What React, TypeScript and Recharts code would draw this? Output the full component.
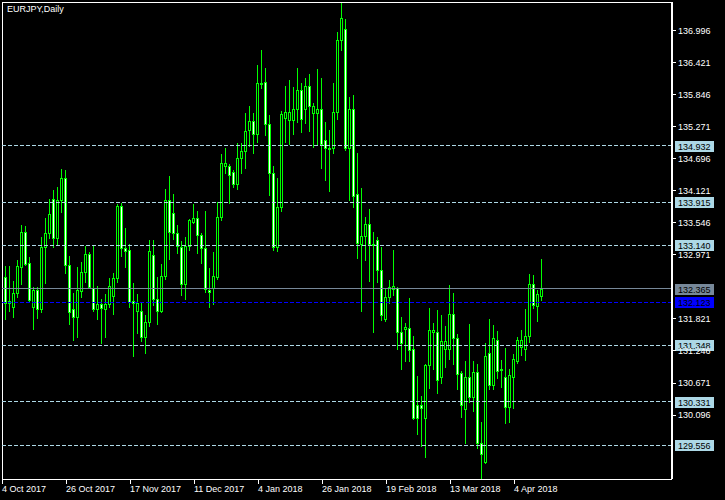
import { ComposedChart, Bar, XAxis, YAxis, ReferenceLine } from "recharts";

// EURJPY daily candles, 4 Oct 2017 .. 17 Apr 2018
const opens = [
  132.592, 132.579, 132.102, 132.03, 132.292, 132.759, 133.376, 132.82, 132.041, 132.335,
  132.005, 133.107, 133.358, 133.969, 133.269, 133.951, 134.346, 132.784, 131.994, 131.85,
  132.317, 132.658, 132.981, 132.371, 131.994, 132.084, 132.005, 132.084, 132.238, 132.55,
  133.848, 133.089, 133.058, 132.138, 131.969, 131.969, 131.491, 131.761, 132.963, 132.174,
  131.958, 132.586, 133.951, 133.717, 133.358, 133.118, 132.443, 133.13, 133.566, 133.628,
  133.322, 133.089, 132.34, 132.382, 132.579, 133.645, 134.572, 134.572, 134.464, 134.249,
  134.705, 134.83, 135.212, 135.369, 135.146, 136.033, 136.069, 135.315, 134.435, 133.107,
  133.825, 135.433, 135.387, 135.387, 135.584, 135.925, 135.584, 135.997, 135.512, 135.512,
  135.584, 135.028, 134.895, 134.884, 135.53, 136.823, 137.02, 134.895, 135.584, 134.069,
  133.172, 133.304, 133.52, 133.172, 133.233, 132.694, 131.815, 132.22, 132.353, 132.371,
  131.592, 131.64, 131.653, 131.276, 130.271, 130.271, 130.037, 130.989, 131.592, 131.592,
  130.773, 131.276, 131.276, 131.904, 131.473, 130.845, 130.199, 130.784, 130.425, 130.863,
  129.589, 129.258, 131.204, 130.63, 131.448, 130.922, 130.784, 130.246, 130.784, 131.061,
  131.323, 131.287, 131.509, 132.443, 132.048, 132.238,
];
const highs = [
  132.664, 132.771, 132.771, 132.502, 132.879, 133.507, 133.489, 132.933, 132.4, 132.394,
  133.286, 133.628, 133.969, 134.13, 134.189, 134.512, 134.494, 132.951, 132.281, 132.759,
  132.843, 133.136, 133.017, 133.136, 132.412, 132.184, 132.269, 132.556, 132.64, 133.879,
  133.897, 133.453, 133.166, 132.466, 132.269, 132.113, 131.892, 133.238, 133.233, 132.579,
  132.802, 134.153, 134.387, 134.069, 133.507, 133.22, 133.286, 133.61, 133.884, 133.759,
  133.358, 133.759, 132.741, 133.023, 133.925, 134.782, 134.895, 134.602, 134.494, 134.974,
  134.979, 135.512, 135.643, 135.512, 136.379, 136.648, 136.325, 135.482, 134.566, 134.351,
  135.554, 136.008, 136.11, 135.984, 136.325, 136.056, 136.146, 136.218, 135.692, 136.307,
  136.146, 135.356, 135.207, 136.056, 136.966, 137.498, 137.205, 135.799, 135.841, 134.794,
  134.177, 133.645, 133.789, 133.376, 133.286, 133.112, 132.353, 132.515, 133.058, 132.4,
  131.856, 131.743, 132.197, 131.515, 130.797, 130.438, 131.012, 132.017, 131.748, 131.981,
  131.892, 131.694, 132.43, 132.281, 131.551, 130.887, 131.066, 131.73, 131.066, 131.012,
  129.971, 131.389, 131.82, 131.712, 131.605, 131.084, 131.294, 130.922, 131.192, 131.497,
  131.622, 131.999, 132.628, 132.61, 132.346, 132.897,
];
const lows = [
  132.43, 131.825, 131.969, 131.861, 132.22, 132.448, 132.784, 132.13, 131.646, 131.843,
  131.946, 132.472, 133.269, 133.107, 133.166, 133.746, 132.651, 131.736, 131.448, 131.502,
  132.22, 132.489, 132.371, 131.964, 131.825, 131.394, 131.502, 132.041, 131.915, 132.489,
  132.951, 132.748, 132.041, 131.161, 131.574, 131.43, 131.215, 131.7, 132.077, 131.725,
  131.94, 132.543, 132.902, 133.261, 133.01, 132.245, 132.184, 133.058, 133.538, 132.999,
  132.831, 132.299, 132.041, 132.089, 132.538, 133.597, 134.446, 133.897, 134.195, 134.159,
  134.446, 134.536, 134.925, 134.805, 135.002, 135.972, 135.123, 134.046, 133.058, 133.046,
  133.759, 135.002, 134.967, 135.146, 135.361, 135.182, 135.344, 135.2, 134.913, 134.949,
  134.536, 134.32, 134.118, 134.805, 135.415, 136.648, 134.853, 133.956, 133.825, 132.92,
  131.969, 132.884, 132.507, 131.592, 132.479, 131.807, 131.789, 132.113, 132.245, 131.287,
  130.928, 131.066, 131.071, 130.025, 129.761, 129.546, 129.348, 130.587, 130.917, 130.497,
  130.666, 130.964, 131.107, 131.018, 130.558, 130.066, 129.6, 130.325, 130.174, 129.499,
  128.96, 129.241, 130.569, 130.569, 130.766, 130.605, 129.959, 129.976, 130.228, 131.025,
  131.179, 131.084, 131.407, 132.023, 131.789, 132.166,
];
const closes = [
  132.52, 132.102, 132.148, 132.292, 132.771, 133.376, 132.813, 132.161, 132.335, 132.005,
  133.107, 133.358, 133.699, 133.269, 133.956, 134.346, 132.784, 131.94, 131.85, 132.335,
  132.658, 132.981, 132.389, 131.994, 132.095, 132.012, 132.095, 132.407, 132.55, 133.848,
  133.089, 133.046, 132.13, 132.113, 132.113, 131.491, 131.761, 133.035, 132.174, 131.958,
  132.586, 133.951, 133.387, 133.358, 133.13, 132.443, 133.13, 133.597, 133.628, 133.322,
  133.089, 132.353, 132.299, 132.592, 133.645, 134.615, 134.615, 134.399, 134.249, 134.705,
  134.83, 135.195, 135.369, 135.146, 136.051, 136.062, 135.315, 134.435, 133.107, 133.825,
  135.494, 135.53, 135.53, 135.584, 135.925, 135.415, 135.997, 135.638, 135.638, 135.584,
  134.956, 134.884, 134.877, 135.53, 136.823, 137.218, 134.884, 135.584, 134.033, 133.179,
  133.304, 133.52, 133.161, 133.143, 132.694, 131.886, 132.22, 132.389, 132.407, 131.592,
  131.394, 131.676, 131.269, 130.048, 130.048, 130.228, 130.989, 131.617, 131.617, 130.72,
  131.42, 131.43, 131.904, 131.473, 130.827, 130.276, 130.784, 130.414, 130.863, 129.589,
  129.397, 131.15, 130.63, 131.473, 130.881, 130.904, 130.246, 130.809, 131.097, 131.438,
  131.438, 131.509, 132.443, 132.066, 132.263, 132.365,
];

const dateTicks = [0, 16, 32, 48, 64, 80, 96, 112, 128];
const dateLabels = [
  "4 Oct 2017", "26 Oct 2017", "17 Nov 2017", "11 Dec 2017", "4 Jan 2018",
  "26 Jan 2018", "19 Feb 2018", "13 Mar 2018", "4 Apr 2018",
];
const priceTicks = [
  136.996, 136.421, 135.846, 135.271, 134.696, 134.121, 133.546, 132.971,
  131.821, 131.246, 130.671, 130.096,
];
const levelLines = [134.932, 133.915, 133.14, 131.348, 130.331, 129.556];
const bidPrice = 132.365;
const bluePrice = 132.123;

const data = opens.map((o, i) => ({
  i,
  open: o,
  high: highs[i],
  low: lows[i],
  close: closes[i],
}));

const LIME = "#00ff00";
const FONT = "'Liberation Sans', Arial, sans-serif";

// wick + 3px body: lime outline, white centre for down days, black for up days
function Candle(props: any) {
  const { x, y, width, height, payload } = props;
  if (x == null || y == null || height == null) return null;
  const top = Math.min(y, y + height);
  const h = Math.abs(height);
  const { open, high, low, close } = payload;
  const k = high > low ? h / (high - low) : 0;
  const toY = (p: number) => top + (high - p) * k;
  const px = Math.round(x + width / 2 - 0.5);
  const bull = close >= open;
  const bTop = Math.round(toY(Math.max(open, close)));
  const bBot = Math.round(toY(Math.min(open, close)));
  const wTop = Math.round(top);
  const wBot = Math.round(top + h);
  return (
    <g shapeRendering="crispEdges">
      <rect x={px} y={wTop} width={1} height={wBot - wTop + 1} fill={LIME} />
      <rect x={px - 1} y={bTop} width={3} height={bBot - bTop + 1} fill={LIME} />
      {bBot - bTop >= 2 && (
        <rect x={px} y={bTop + 1} width={1} height={bBot - bTop - 1} fill={bull ? "#000" : "#fff"} />
      )}
    </g>
  );
}

function DateTick(props: any) {
  const { x, y, payload } = props;
  const idx = dateTicks.indexOf(payload.value);
  const px = Math.round(x - 0.5) + 0.5;
  return (
    <g>
      <line x1={px} x2={px} y1={y} y2={y + 5} stroke="#fff" shapeRendering="crispEdges" />
      <text x={px - 0.5} y={y + 12.7} fill="#fff" fontSize={9} fontFamily={FONT}>
        {idx >= 0 ? dateLabels[idx] : ""}
      </text>
    </g>
  );
}

function PriceTick(props: any) {
  const { x, y, payload } = props;
  const py = Math.round(y - 0.5) + 0.5;
  return (
    <g>
      <line x1={x} x2={x + 4} y1={py} y2={py} stroke="#fff" shapeRendering="crispEdges" />
      <text x={x + 6} y={y + 3.2} fill="#fff" fontSize={9} fontFamily={FONT}>
        {payload.value.toFixed(3)}
      </text>
    </g>
  );
}

function priceBox(bg: string, fg: string, value: number) {
  return (props: any) => {
    const vb = props.viewBox || {};
    const bx = (vb.x || 0) + (vb.width || 0) + 3;
    const by = Math.round(vb.y || 0);
    return (
      <g>
        <rect x={bx} y={by - 5} width={39} height={11} fill={bg} shapeRendering="crispEdges" />
        <text x={bx + 3} y={by + 3.5} fill={fg} fontSize={9} fontFamily={FONT}>
          {value.toFixed(3)}
        </text>
      </g>
    );
  };
}

export default function App() {
  return (
    <div style={{ position: "absolute", left: 0, top: 0, width: 725, height: 500, background: "#000" }}>
      <ComposedChart
        width={725}
        height={500}
        data={data}
        margin={{ top: 2, right: 0, bottom: 0, left: 2 }}
      >
        <XAxis
          dataKey="i"
          type="number"
          domain={[-0.075, 167.425]}
          allowDataOverflow
          ticks={dateTicks}
          interval={0}
          height={21}
          tickSize={0}
          tickMargin={0}
          tickLine={false}
          axisLine={{ stroke: "#fff", shapeRendering: "crispEdges" }}
          tick={<DateTick />}
        />
        <YAxis
          orientation="right"
          type="number"
          domain={[128.948, 137.51]}
          allowDataOverflow
          ticks={priceTicks}
          interval={0}
          width={53}
          tickSize={0}
          tickMargin={0}
          tickLine={false}
          axisLine={{ stroke: "#fff", strokeWidth: 2 }}
          tick={<PriceTick />}
        />
        <ReferenceLine y={137.51} stroke="#fff" shapeRendering="crispEdges" />
        <ReferenceLine x={-0.075} stroke="#fff" shapeRendering="crispEdges" />
        {levelLines.map((v) => (
          <ReferenceLine
            key={v}
            y={v}
            stroke="#add8e6"
            strokeDasharray="4 2"
            shapeRendering="crispEdges"
            label={priceBox("#add8e6", "#000", v)}
          />
        ))}
        <ReferenceLine
          y={bidPrice}
          stroke="#778899"
          shapeRendering="crispEdges"
          label={priceBox("#778899", "#000", bidPrice)}
        />
        <ReferenceLine
          y={bluePrice}
          stroke="#0000ff"
          strokeDasharray="4 2"
          shapeRendering="crispEdges"
          label={priceBox("#0000ff", "#000", bluePrice)}
        />
        <Bar
          dataKey={(d: any) => [d.low, d.high]}
          barSize={3}
          shape={<Candle />}
          isAnimationActive={false}
        />
      </ComposedChart>
      <div
        style={{
          position: "absolute",
          left: 7,
          top: 4,
          color: "#fff",
          fontSize: 9,
          fontFamily: FONT,
          lineHeight: "11px",
        }}
      >
        EURJPY,Daily
      </div>
    </div>
  );
}
